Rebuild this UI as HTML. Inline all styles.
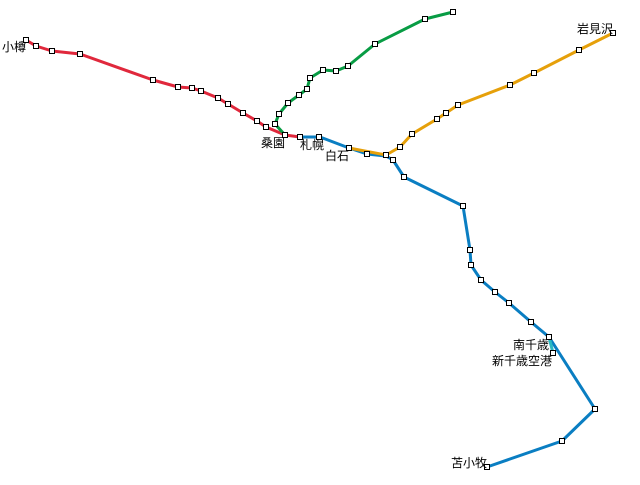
<!DOCTYPE html>
<html><head><meta charset="utf-8"><style>
html,body{margin:0;padding:0;background:#fff}
svg text{font-family:"Liberation Sans","Noto Sans CJK JP",sans-serif;font-size:12px;fill:#000}
</style></head><body>
<svg width="640" height="480" viewBox="0 0 640 480" xmlns="http://www.w3.org/2000/svg">
<g fill="none" stroke-width="3" stroke-linejoin="round">
<polyline stroke="#e0283c" points="26,40 36,46 52,51 80,54 153,80 178,87 192,88 201,91 218,98 228,104 243,113 257,121 266,127 285,135 300,137"/>
<polyline stroke="#089c44" points="285,135 275,124 279,114 288,103 299,95 307,89 310,78 323,70 336,71 348,66 375,44 425,19 453,12"/>
<polyline stroke="#0a7ec2" points="300,137 320,137 349,148 367,154 386,156 393,160 404,177 463,206 470,250 471,265 481,280 495,292 509,303 531,322 549,337 595,409 562,441 487,467"/>
<polyline stroke="#2ab8c0" points="549,337 553,353"/>
<polyline stroke="#e6a00a" points="349,148 386,155 400,147 412,134 437,119 446,113 458,105 510,85 534,73 579,50 613,33"/>
</g>
<g fill="#fff" stroke="#000" stroke-width="1">
<rect x="23.5" y="37.5" width="5" height="5"/><rect x="33.5" y="43.5" width="5" height="5"/><rect x="49.5" y="48.5" width="5" height="5"/><rect x="77.5" y="51.5" width="5" height="5"/><rect x="150.5" y="77.5" width="5" height="5"/><rect x="175.5" y="84.5" width="5" height="5"/><rect x="189.5" y="85.5" width="5" height="5"/><rect x="198.5" y="88.5" width="5" height="5"/><rect x="215.5" y="95.5" width="5" height="5"/><rect x="225.5" y="101.5" width="5" height="5"/><rect x="240.5" y="110.5" width="5" height="5"/><rect x="254.5" y="118.5" width="5" height="5"/><rect x="263.5" y="124.5" width="5" height="5"/><rect x="282.5" y="132.5" width="5" height="5"/><rect x="297.5" y="134.5" width="5" height="5"/>
<rect x="272.5" y="121.5" width="5" height="5"/><rect x="276.5" y="111.5" width="5" height="5"/><rect x="285.5" y="100.5" width="5" height="5"/><rect x="296.5" y="92.5" width="5" height="5"/><rect x="304.5" y="86.5" width="5" height="5"/><rect x="307.5" y="75.5" width="5" height="5"/><rect x="320.5" y="67.5" width="5" height="5"/><rect x="333.5" y="68.5" width="5" height="5"/><rect x="345.5" y="63.5" width="5" height="5"/><rect x="372.5" y="41.5" width="5" height="5"/><rect x="422.5" y="16.5" width="5" height="5"/><rect x="450.5" y="9.5" width="5" height="5"/>
<rect x="316.5" y="134.5" width="5" height="5"/><rect x="346.5" y="145.5" width="5" height="5"/><rect x="364.5" y="151.5" width="5" height="5"/><rect x="383.5" y="152.5" width="5" height="5"/><rect x="390.5" y="157.5" width="5" height="5"/><rect x="401.5" y="174.5" width="5" height="5"/><rect x="460.5" y="203.5" width="5" height="5"/><rect x="467.5" y="247.5" width="5" height="5"/><rect x="468.5" y="262.5" width="5" height="5"/><rect x="478.5" y="277.5" width="5" height="5"/><rect x="492.5" y="289.5" width="5" height="5"/><rect x="506.5" y="300.5" width="5" height="5"/><rect x="528.5" y="319.5" width="5" height="5"/><rect x="546.5" y="334.5" width="5" height="5"/><rect x="550.5" y="350.5" width="5" height="5"/><rect x="592.5" y="406.5" width="5" height="5"/><rect x="559.5" y="438.5" width="5" height="5"/><rect x="484.5" y="464.5" width="5" height="5"/>
<rect x="397.5" y="144.5" width="5" height="5"/><rect x="409.5" y="131.5" width="5" height="5"/><rect x="434.5" y="116.5" width="5" height="5"/><rect x="443.5" y="110.5" width="5" height="5"/><rect x="455.5" y="102.5" width="5" height="5"/><rect x="507.5" y="82.5" width="5" height="5"/><rect x="531.5" y="70.5" width="5" height="5"/><rect x="576.5" y="47.5" width="5" height="5"/><rect x="610.5" y="30.5" width="5" height="5"/>
</g>
<text x="2" y="51">小樽</text>
<text x="261" y="147">桑園</text>
<text x="300" y="149">札幌</text>
<text x="325" y="160">白石</text>
<text x="577" y="33">岩見沢</text>
<text x="513" y="349">南千歳</text>
<text x="492" y="365">新千歳空港</text>
<text x="451" y="467">苫小牧</text>
</svg>
</body></html>
